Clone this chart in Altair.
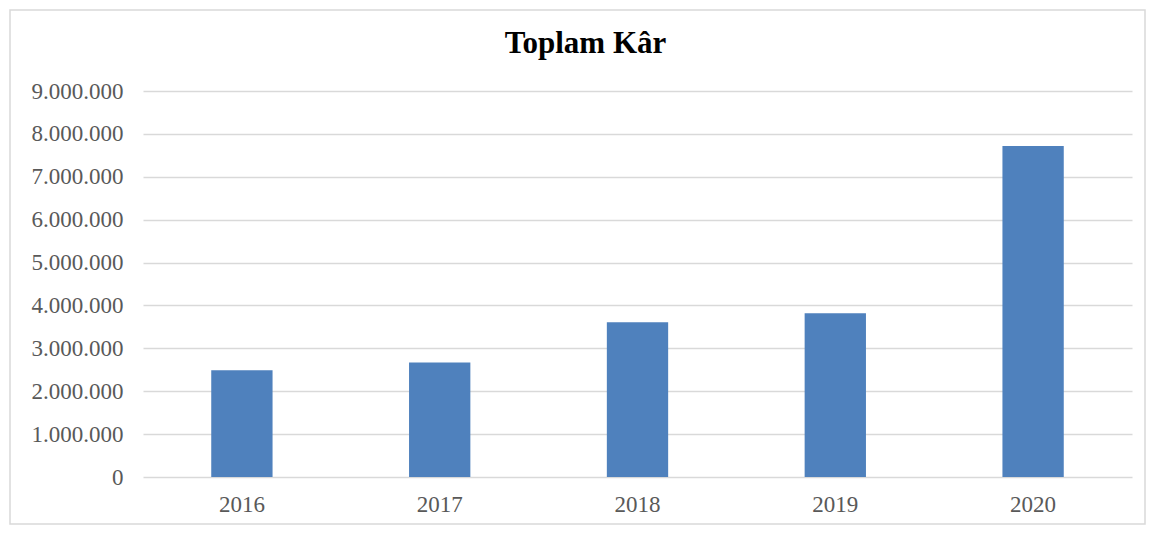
import altair as alt
import pandas as pd

years = ["2016", "2017", "2018", "2019", "2020"]
profit = [2490000, 2670000, 3610000, 3820000, 7720000]
y_ticks = [0, 1000000, 2000000, 3000000, 4000000, 5000000, 6000000, 7000000, 8000000, 9000000]

df = pd.DataFrame({"Yıl": years, "Kâr": profit})

FONT = "Liberation Serif"
GRAY = "#595959"

bars = alt.Chart(df).mark_bar(color="#4F81BD").encode(
    x=alt.X("Yıl:N", sort=years,
            scale=alt.Scale(paddingInner=0.69, paddingOuter=0.345),
            axis=alt.Axis(title=None, labelAngle=0, domain=False, ticks=False,
                          labelFont=FONT, labelFontSize=23, labelColor=GRAY,
                          labelPadding=16, grid=False)),
    y=alt.Y("Kâr:Q", scale=alt.Scale(domain=[0, 9000000], nice=False),
            axis=alt.Axis(title=None, values=y_ticks, format=",d", domain=False,
                          ticks=False, labelFont=FONT, labelFontSize=23,
                          labelColor=GRAY, labelPadding=20,
                          gridColor="#D9D9D9", gridWidth=1.5)),
)

border = alt.Chart(pd.DataFrame({"a": [0]})).mark_rect(
    fill=None, stroke="#D9D9D9", strokeWidth=1.5
).encode(
    x=alt.value(-133), x2=alt.value(1002),
    y=alt.value(-81), y2=alt.value(433),
)

chart = alt.layer(border, bars).properties(
    width=989, height=386,
    autosize="none",
    padding={"left": 135, "top": 83, "right": 14, "bottom": 48},
    title=alt.TitleParams("Toplam Kâr", font=FONT, fontSize=31, fontWeight="bold",
                          color="#000000", anchor="middle", dx=-52,
                          baseline="alphabetic", offset=-75),
).configure(
    view={"stroke": None},
    locale={"number": {"decimal": ",", "thousands": ".", "grouping": [3],
                       "currency": ["", " TL"]}}
)

chart.save("out.html", embed_options={"renderer": "svg", "actions": False})
